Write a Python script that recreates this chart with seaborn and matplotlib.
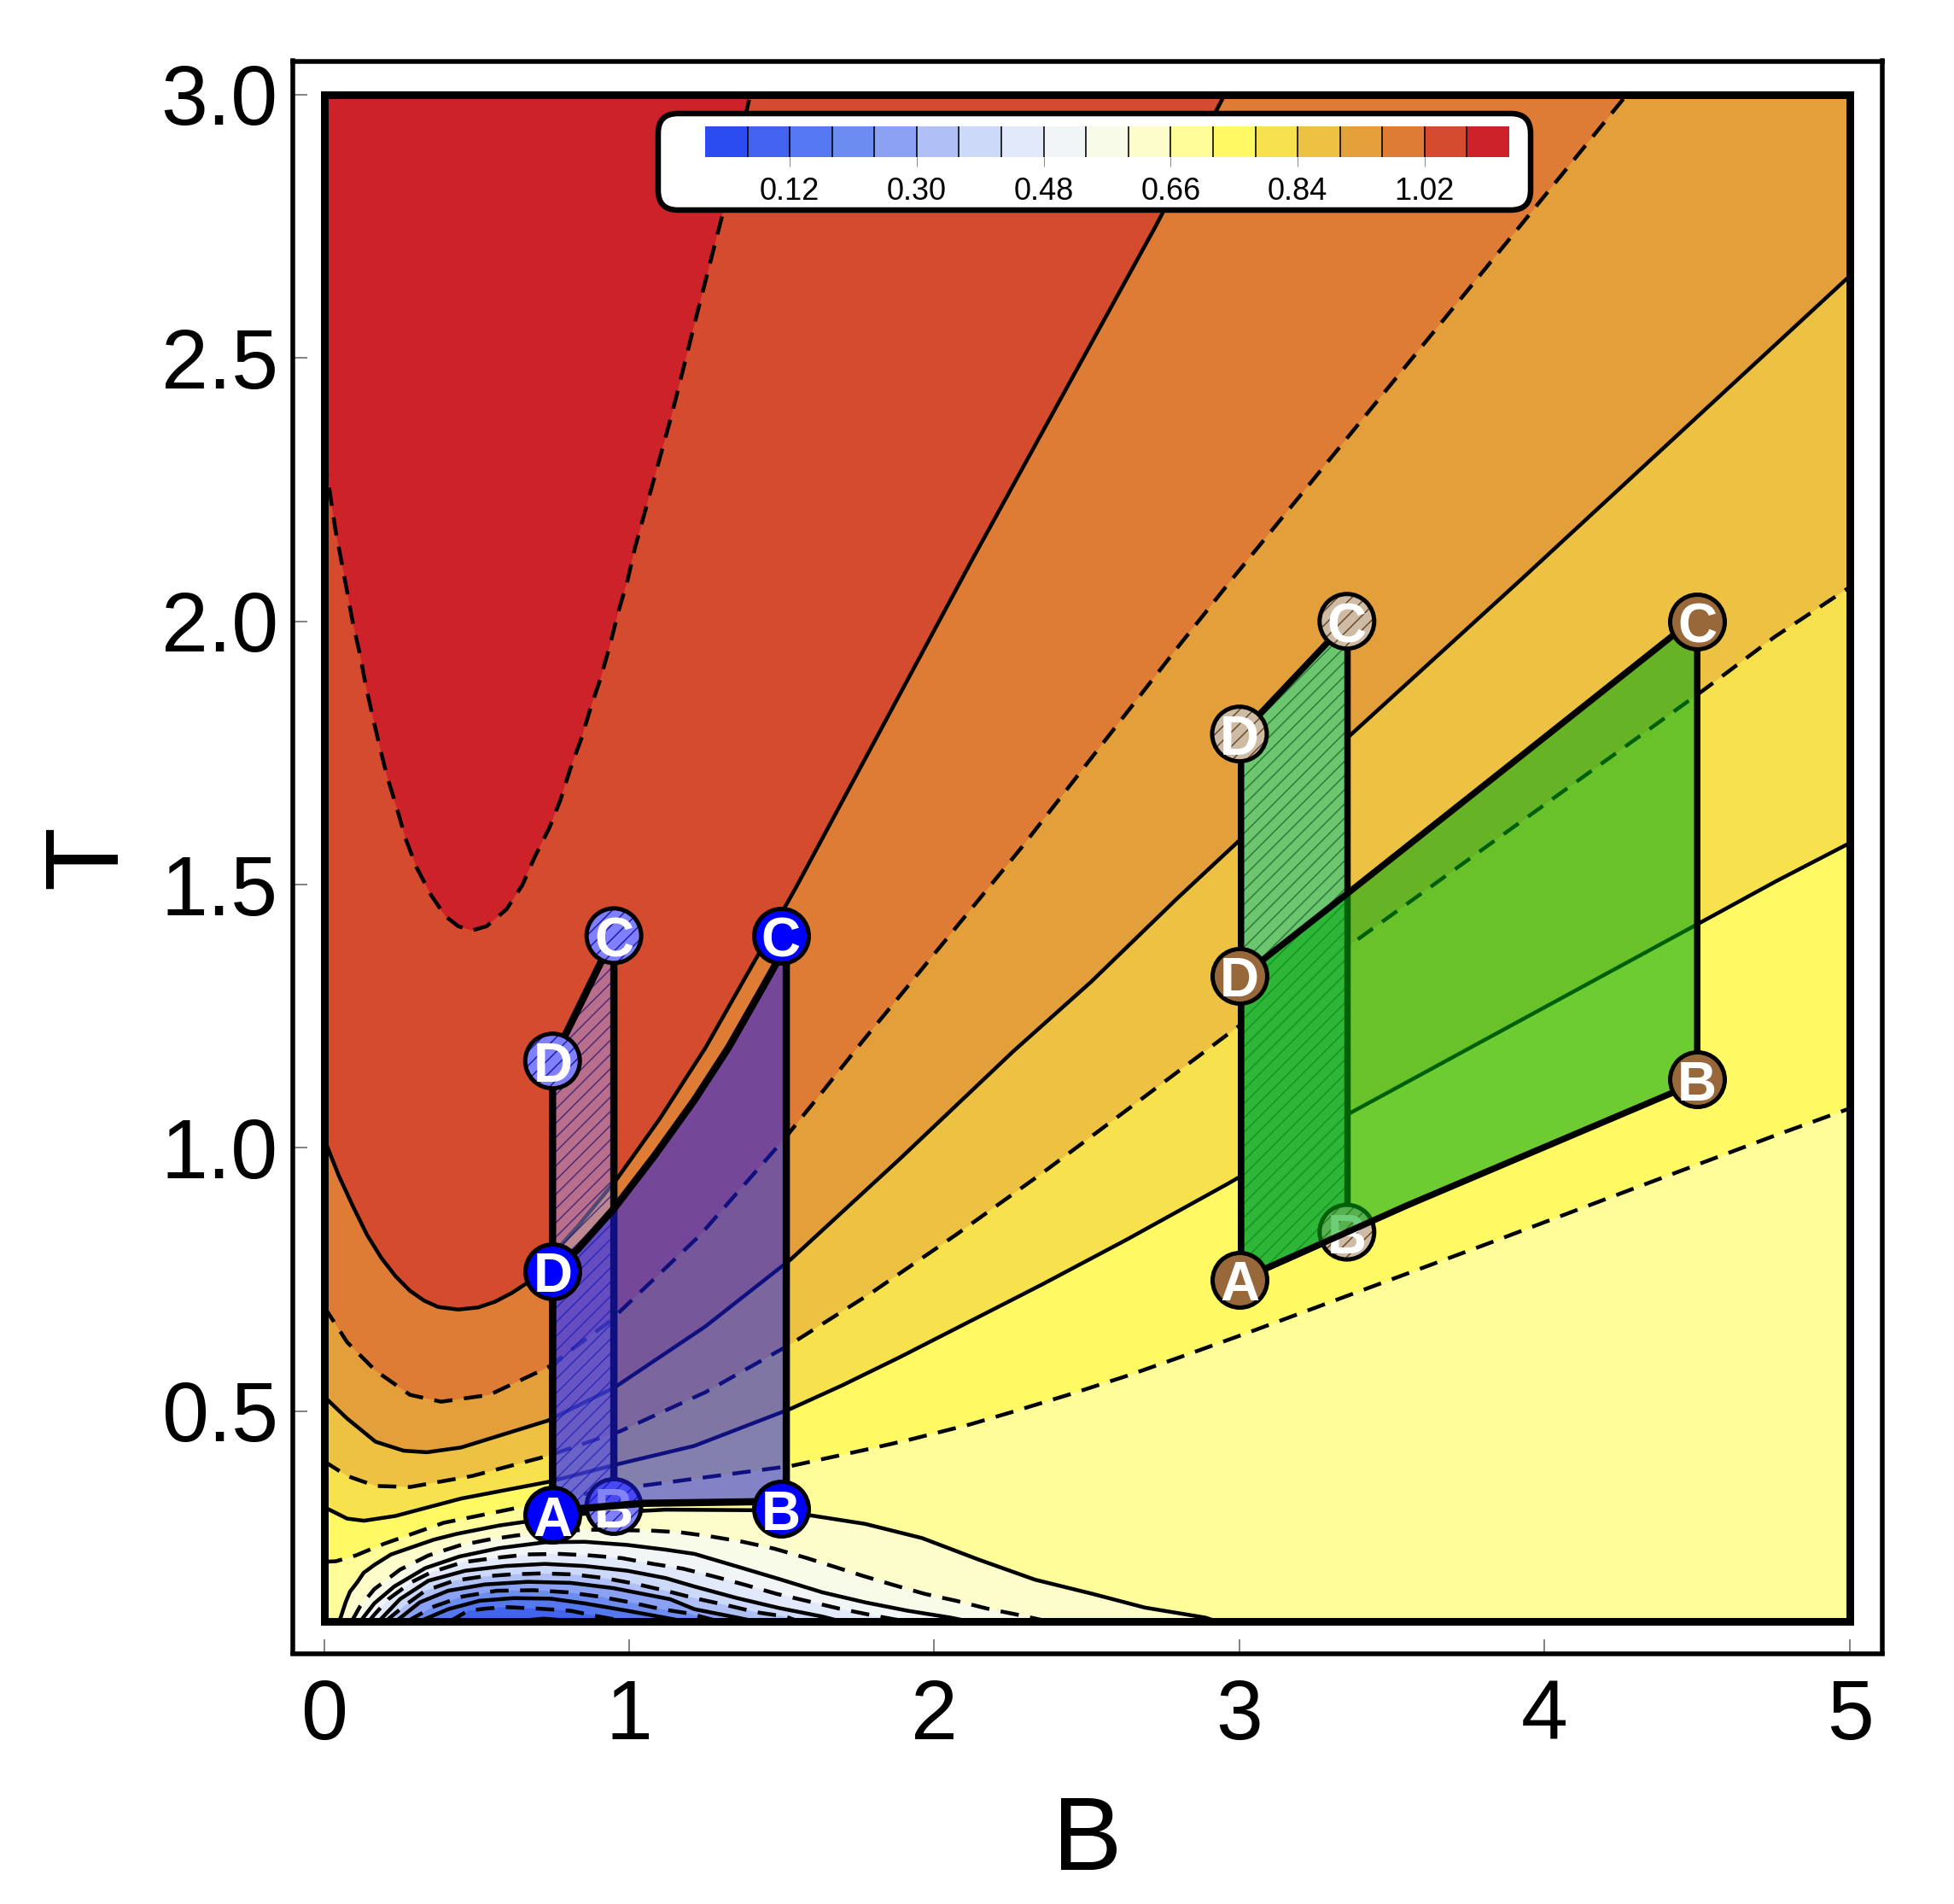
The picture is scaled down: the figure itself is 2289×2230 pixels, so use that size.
import numpy as np
import matplotlib
matplotlib.use("Agg")
import matplotlib.pyplot as plt
import seaborn as sns
from matplotlib.colors import ListedColormap
from matplotlib.patches import FancyBboxPatch

# band colours, lowest level first
BAND_COLORS = ["#2B4CF0", "#4262F0", "#5577F2", "#6D8CF2", "#8BA2F4", "#AFC0F6", "#CCD9F8",
               "#E2E9FB", "#F1F5F5", "#F8FBE8", "#FDFDCB", "#FFFD9A", "#FFF963", "#F7E24E",
               "#EDC142", "#E39F3A", "#DE7C35", "#D54B2E", "#CE222B"]
CBAR_TICKS = ["0.12", "0.30", "0.48", "0.66", "0.84", "1.02"]
X_TICKS = [0, 1, 2, 3, 4, 5]
Y_TICKS = [0.5, 1.0, 1.5, 2.0, 2.5, 3.0]

# contour lines, (B, T)
C108_B = [0, .015, .039, .057, .076, .095, .118, .137, .160, .183, .207, .239, .267, .304, .351, .398, .440, .486, .533, .598, .650, .691, .738, .775, .808, .845, .873, .906, .934, .966, .995, 1.018, 1.046, 1.139, 1.223, 1.307, 1.391, 1.397]
C108_T = [2.31, 2.261, 2.169, 2.115, 2.056, 1.996, 1.937, 1.878, 1.818, 1.761, 1.705, 1.645, 1.588, 1.532, 1.480, 1.440, 1.421, 1.413, 1.421, 1.453, 1.499, 1.553, 1.607, 1.661, 1.721, 1.780, 1.834, 1.891, 1.948, 2.021, 2.078, 2.137, 2.196, 2.391, 2.585, 2.775, 2.985, 3.0]
C102_B = [0, .011, .048, .095, .141, .188, .235, .281, .328, .374, .440, .505, .561, .617, .664, .83, .960, 1.1, 1.25, 1.428, 1.548, 2.124, 2.724, 2.944, 2.951]
C102_T = [1.016, 1.002, .948, .889, .835, .791, .756, .729, .710, .698, .693, .697, .708, .725, .743, .85, .941, 1.055, 1.19, 1.372, 1.496, 2.117, 2.749, 2.992, 3.0]
C096_B = [0, .076, .169, .282, .384, .542, .733, .933, 1.232, 1.507, 1.638, 1.764, 1.899, 2.288, 2.798, 2.974, 3.917, 4.269]
C096_T = [.699, .631, .577, .531, .518, .531, .583, .669, .834, 1.016, 1.110, 1.202, 1.297, 1.572, 1.951, 2.079, 2.749, 3.0]
C090_B = [0, .076, .169, .261, .337, .449, .733, .952, 1.25, 1.531, 1.885, 2.258, 2.514, 2.798, 2.998, 3.354, 3.922, 5]
C090_T = [.528, .486, .442, .425, .422, .431, .482, .545, .661, .789, .978, 1.183, 1.3155, 1.475, 1.583, 1.779, 2.079, 2.656]
C084_B = [0, .076, .169, .282, .486, .733, .971, 1.25, 1.531, 1.792, 2.071, 2.351, 2.631, 2.962, 3.378, 4.522, 4.755, 5]
C084_T = [.405, .377, .358, .356, .377, .415, .462, .536, .628, .724, .835, .951, 1.072, 1.216, 1.392, 1.870, 1.971, 2.065]
C078_B = [0, .076, .131, .234, .449, .738, .960, 1.213, 1.531, 1.698, 1.885, 2.118, 2.351, 2.631, 2.962, 3.362, 4.498, 4.757, 5]
C078_T = [.318, .296, .292, .301, .334, .366, .399, .434, .505, .549, .602, .671, .740, .826, .932, 1.066, 1.424, 1.506, 1.579]
C072_B = [0, .039, .104, .196, .392, .663, .821, 1.036, 1.531, 1.792, 1.92, 2.118, 2.258, 2.444, 2.631, 2.817, 3.023, 3.799, 4.297, 4.757, 5]
C072_T = [.214, .215, .226, .248, .288, .320, .340, .358, .396, .429, .446, .475, .499, .532, .567, .605, .648, .815, .924, 1.024, 1.075]
C066_B = [.05, .071, .085, .109, .13, .165, .22, .295, .36, .435, .575, .659, .85, 1.12, 1.40, 1.596, 1.773, 1.96, 2.146, 2.33, 2.519, 2.69, 2.888, 2.93]
C066_T = [.10, .137, .157, .175, .193, .208, .228, .243, .256, .267, .283, .290, .305, .313, .312, .302, .286, .259, .218, .180, .153, .127, .108, .10]
C060_B = [.09, .118, .165, .249, .342, .444, .538, .631, .761, .873, 1.078, 1.167, 1.269, 1.372, 1.475, 1.577, 1.670, 1.773, 1.866, 1.969, 2.071, 2.174, 2.277, 2.38]
C060_T = [.10, .129, .162, .199, .226, .245, .256, .264, .272, .275, .273, .270, .262, .252, .239, .222, .205, .186, .170, .153, .140, .125, .113, .10]
C054_B = [.118, .165, .230, .332, .444, .575, .724, .854, .994, 1.12, 1.214, 1.354, 1.493, 1.633, 1.773, 1.913, 2.053, 2.12]
C054_T = [.10, .135, .167, .202, .224, .240, .251, .252, .246, .237, .229, .205, .181, .156, .137, .121, .108, .10]
C048_B = [.145, .169, .211, .286, .351, .454, .556, .668, .771, .873, .976, 1.078, 1.176, 1.279, 1.381, 1.484, 1.587, 1.689, 1.792, 1.866, 1.92]
C048_T = [.10, .116, .143, .175, .194, .213, .221, .228, .229, .226, .221, .210, .201, .186, .170, .153, .139, .125, .113, .105, .10]
C042_B = [.178, .249, .342, .463, .594, .724, .854, .994, 1.12, 1.214, 1.354, 1.493, 1.633, 1.70]
C042_T = [.10, .143, .178, .197, .206, .210, .206, .197, .183, .167, .145, .126, .110, .10]
C036_B = [.20, .267, .332, .426, .519, .612, .715, .817, .920, 1.022, 1.12, 1.214, 1.316, 1.419, 1.512, 1.56]
C036_T = [.10, .132, .159, .178, .186, .190, .192, .190, .183, .172, .159, .145, .132, .118, .110, .10]
C030_B = [.234, .314, .407, .528, .668, .808, .948, 1.134, 1.214, 1.354, 1.42]
C030_T = [.10, .137, .159, .171, .176, .174, .164, .143, .124, .108, .10]
C024_B = [.27, .360, .454, .566, .687, .799, .901, 1.004, 1.106, 1.195, 1.30]
C024_T = [.10, .129, .148, .159, .160, .156, .148, .137, .124, .116, .10]
C018_B = [.31, .407, .510, .621, .743, .854, .994, 1.116, 1.19]
C018_T = [.10, .124, .140, .145, .144, .135, .121, .108, .10]
C012_B = [.41, .472, .528, .594, .705, .808, .901, 1.0]
C012_T = [.10, .121, .125, .128, .125, .121, .110, .10]
C006_B = [.60, .72, .85]
C006_T = [.10, .106, .10]

CONTOURS = [(C108_B, C108_T), (C102_B, C102_T), (C096_B, C096_T), (C090_B, C090_T), (C084_B, C084_T),
            (C078_B, C078_T), (C072_B, C072_T), (C066_B, C066_T), (C060_B, C060_T), (C054_B, C054_T),
            (C048_B, C048_T), (C042_B, C042_T), (C036_B, C036_T), (C030_B, C030_T), (C024_B, C024_T),
            (C018_B, C018_T), (C012_B, C012_T), (C006_B, C006_T)]

# blue cycles
BLUE_BIG_B = [.749, .84, 1.045, 1.41, 1.515, 1.515, 1.493, 1.437, 1.325, 1.213, 1.083, .952, .831, .749]
BLUE_BIG_T = [.303, .315, .325, .328, .328, 1.39, 1.362, 1.304, 1.19, 1.09, .985, .886, .807, .766]
BLUE_SMALL_B = [.749, .95, .95, .749]
BLUE_SMALL_T = [.303, .319, 1.403, 1.165]
BLUE_BIG_PTS_B = [.749, 1.497, 1.497, .749]
BLUE_BIG_PTS_T = [.303, .315, 1.403, .766]
BLUE_SMALL_PTS_B = [.95, .95, .749]
BLUE_SMALL_PTS_T = [.319, 1.403, 1.165]

# green cycles
GREEN_BIG_B = [3.005, 3.09, 3.55, 4.42, 4.5, 4.5, 4.42, 3.92, 3.36, 3.07, 3.005]
GREEN_BIG_T = [.75, .772, .891, 1.105, 1.13, 2.0, 1.973, 1.743, 1.486, 1.354, 1.327]
GREEN_SMALL_B = [3.005, 3.354, 3.354, 3.005]
GREEN_SMALL_T = [.75, .84, 2.0, 1.786]
GREEN_BIG_PTS_B = [3.0, 4.5, 4.5, 3.0]
GREEN_BIG_PTS_T = [.75, 1.13, 2.0, 1.327]
GREEN_SMALL_PTS_B = [3.352, 3.352, 3.0]
GREEN_SMALL_PTS_T = [.84, 2.0, 1.786]

FIG_W, FIG_H, DPI = 2289, 2230, 100
PX = 72 / DPI  # one pixel in points


def rect(x0, y0, x1, y1):
    # pixel box of the reference, y going down
    return [x0 / FIG_W, 1 - y1 / FIG_H, (x1 - x0) / FIG_W, (y1 - y0) / FIG_H]


def closed_outline(ax, xs, ys, lw, z):
    sns.lineplot(x=xs + xs[:1], y=ys + ys[:1], sort=False, estimator=None, color="black",
                 linewidth=lw * PX, ax=ax, zorder=z, solid_joinstyle="round")


def draw_points(ax, xs, ys, letters, face, hatch_color, z):
    kw = dict(x=xs, y=ys, s=(64 * PX) ** 2, ax=ax, legend=False)
    if hatch_color is None:
        sns.scatterplot(color=face, edgecolor="black", linewidth=5 * PX, zorder=z, **kw)
    else:
        sns.scatterplot(color=face, edgecolor=hatch_color, hatch="//", linewidth=0, zorder=z, **kw)
        sns.scatterplot(facecolor="none", edgecolor="black", linewidth=5 * PX, zorder=z + .1, **kw)
    for x, y, s in zip(xs, ys, letters):
        ax.text(x, y - .002, s, color="white", fontsize=46, fontweight="bold",
                ha="center", va="center_baseline", zorder=z + .2)


sns.set_theme(style="white")
plt.rcParams["font.family"] = ["Liberation Sans", "DejaVu Sans"]
plt.rcParams["hatch.linewidth"] = 1.1

fig = plt.figure(figsize=(FIG_W / DPI, FIG_H / DPI), dpi=DPI)
ax = fig.add_axes(rect(342.5, 71.5, 2204.5, 1936.5))

# bands: paint from the top level down
ax.fill([0, 5, 5, 0], [.1, .1, 3, 3], color=BAND_COLORS[-1], lw=0, zorder=1)
for i, (b, t) in enumerate(CONTOURS):
    if t[0] == .10:
        xs, ys = b, t
    elif b[-1] < 5:
        xs, ys = b + [5, 5, 0], t + [3, .1, .1]
    else:
        xs, ys = b + [5, 0], t + [.1, .1]
    ax.fill(xs, ys, color=BAND_COLORS[-2 - i], lw=0, zorder=1 + i * .01)

# contour lines, solid and dashed in turn
for i, (b, t) in enumerate(CONTOURS):
    style = (0, (4.8, 3)) if i % 2 == 0 else "-"
    sns.lineplot(x=b, y=t, sort=False, estimator=None, color="black", linewidth=4.5 * PX,
                 linestyle=style, ax=ax, zorder=2)

ax.plot([0, 5, 5, 0, 0], [.1, .1, 3, 3, .1], color="black", lw=9 * PX, zorder=3,
        solid_joinstyle="miter", solid_capstyle="projecting")

# blue cycles
ax.fill(BLUE_SMALL_B, BLUE_SMALL_T, facecolor=(.62, .58, .92, .5), edgecolor=(0, 0, .45, .6),
        hatch="//", linewidth=0, zorder=4)
closed_outline(ax, BLUE_SMALL_B, BLUE_SMALL_T, 8.5, 5)
draw_points(ax, BLUE_SMALL_PTS_B, BLUE_SMALL_PTS_T, ["B", "C", "D"], "#8080FF", "#2020A0", 6)
ax.fill(BLUE_BIG_B, BLUE_BIG_T, color="#1D1DEB", alpha=.55, lw=0, zorder=7)
closed_outline(ax, BLUE_BIG_B, BLUE_BIG_T, 8.5, 8)
draw_points(ax, BLUE_BIG_PTS_B, BLUE_BIG_PTS_T, ["A", "B", "C", "D"], "#0000FF", None, 9)

# green cycles
ax.fill(GREEN_SMALL_B, GREEN_SMALL_T, facecolor="#6CC670", edgecolor="#2E7D3A",
        hatch="//", linewidth=0, zorder=4)
closed_outline(ax, GREEN_SMALL_B, GREEN_SMALL_T, 7.5, 5)
draw_points(ax, GREEN_SMALL_PTS_B, GREEN_SMALL_PTS_T, ["B", "C", "D"], "#CDBBA5", "#6B4A2A", 6)
ax.fill(GREEN_BIG_B, GREEN_BIG_T, color="#00AA10", alpha=.57, lw=0, zorder=7)
closed_outline(ax, GREEN_BIG_B, GREEN_BIG_T, 7.5, 8)
draw_points(ax, GREEN_BIG_PTS_B, GREEN_BIG_PTS_T, ["A", "B", "C", "D"], "#98683A", None, 9)

ax.set_xlim(-.1035, 5.105)
ax.set_ylim(.040, 3.064)
ax.set_xticks(X_TICKS)
ax.set_yticks(Y_TICKS)
ax.set_yticklabels([f"{v:.1f}" for v in Y_TICKS])
ax.tick_params(axis="both", direction="in", length=17 * PX, width=1.6 * PX, color="#666666",
               labelsize=71, bottom=True, left=True, top=False, right=False)
ax.tick_params(axis="x", pad=21)
ax.tick_params(axis="y", pad=12)
ax.set_xlabel("B", fontsize=88, labelpad=32, color="black")
ax.set_ylabel("T", fontsize=88, labelpad=20, color="black")
for lab in ax.get_xticklabels() + ax.get_yticklabels():
    lab.set_color("black")
for sp in ax.spines.values():
    sp.set_visible(True)
    sp.set_color("black")
    sp.set_linewidth(5.5 * PX)

# colour bar panel
panel = fig.add_axes(rect(760, 125, 1805, 255), zorder=10)
panel.set_xlim(760, 1805)
panel.set_ylim(255, 125)
panel.set_axis_off()
panel.add_patch(FancyBboxPatch((794, 156), 976, 67, boxstyle="round,pad=23,rounding_size=23",
                               facecolor="white", edgecolor="black", linewidth=6.5 * PX))

cax = fig.add_axes(rect(826, 148, 1768, 184), zorder=11)
sns.heatmap(np.arange(len(BAND_COLORS)).reshape(1, -1), cmap=ListedColormap(BAND_COLORS), cbar=False,
            xticklabels=False, yticklabels=False, ax=cax)
cax.vlines(np.arange(1, len(BAND_COLORS)), 0, 1, color="black", lw=1.6 * PX)
cax.set_xticks(np.arange(2, 18, 3))
cax.set_xticklabels(CBAR_TICKS, rotation=0, fontsize=26, color="black")
cax.tick_params(axis="x", bottom=True, length=11 * PX, width=1 * PX, color="#888888", pad=9)

fig.savefig("out.png", dpi=DPI)
